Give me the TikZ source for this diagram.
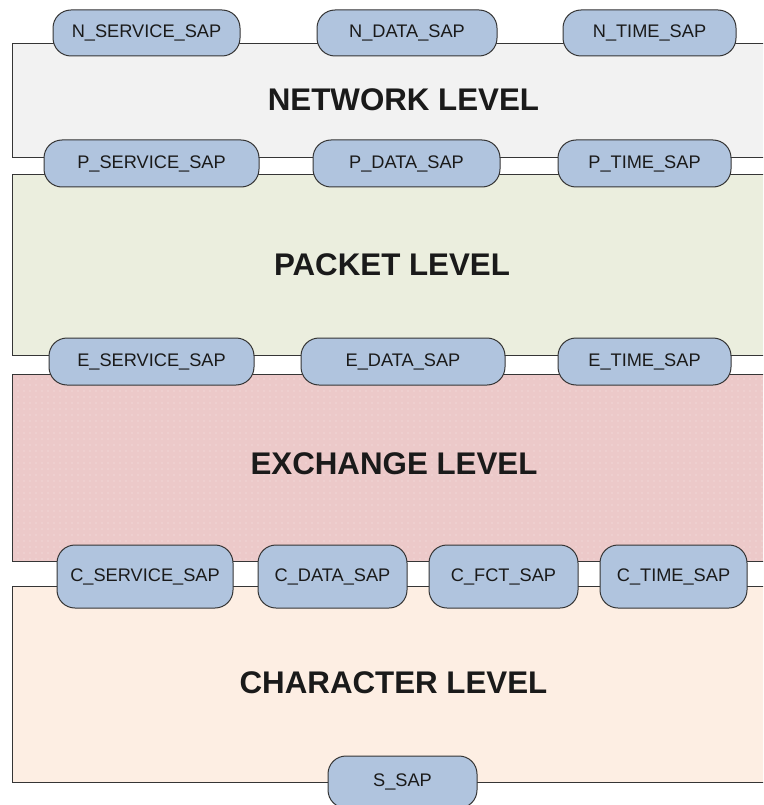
\documentclass[tikz,border=0pt]{standalone}
\usepackage{fontspec}
\setmainfont{Liberation Sans}
\usetikzlibrary{patterns.meta}
\definecolor{sapfill}{HTML}{B0C4DE}
\definecolor{edge}{HTML}{353535}
\definecolor{netfill}{HTML}{F2F2F2}
\definecolor{pktfill}{HTML}{EBEEDE}
\definecolor{excfill}{HTML}{ECC9C9}
\definecolor{chrfill}{HTML}{FDEEE3}
\definecolor{txt}{HTML}{1A1A1A}
\tikzset{
  sapbox/.style={draw=edge, fill=sapfill, line width=1pt, rounded corners=18pt,
    inner sep=0pt, font=\fontsize{18.2}{20}\selectfont, text=txt, anchor=center},
  levelbox/.style={draw=edge, line width=1pt},
  levellabel/.style={font=\fontsize{31.3}{34}\selectfont\bfseries, text=txt, anchor=center}
}
\newcommand{\mysap}[6]{%
  \node[sapbox, minimum width={(#4-#2)*1pt}, minimum height={(#5-#3)*1pt}]
    (#1) at ({(#2+#4)/2},{(#3+#5)/2}) {#6};}
\begin{document}
\begin{tikzpicture}[x=1pt,y=-1pt]
\useasboundingbox (0,0) rectangle (763,805);
\clip (0,0) rectangle (763,805);
% level rectangles
\draw[levelbox, fill=netfill] (12,44) rectangle (800,157.5);
\draw[levelbox, fill=pktfill] (12,174.5) rectangle (800,355);
\draw[levelbox, fill=excfill] (12,374.5) rectangle (800,561.5);
\fill[pattern={Dots[distance=6pt, radius=0.6pt]}, pattern color=white!50!excfill] (12.5,375) rectangle (800,561);
\draw[levelbox, fill=chrfill] (12,586.5) rectangle (800,782);
% level labels
\node[levellabel] (netlbl) at (403.5,100) {NETWORK LEVEL};
\node[levellabel] (pktlbl) at (392,265) {PACKET LEVEL};
\node[levellabel] (exclbl) at (394,464) {EXCHANGE LEVEL};
\node[levellabel] (chrlbl) at (393.5,683) {CHARACTER LEVEL};
% SAPs
\mysap{nserv}{53}{10}{240}{56}{N\_SERVICE\_SAP}
\mysap{ndata}{317}{10}{497}{56}{N\_DATA\_SAP}
\mysap{ntime}{563}{10}{736}{56}{N\_TIME\_SAP}
\mysap{pserv}{44}{140}{259}{187}{P\_SERVICE\_SAP}
\mysap{pdata}{313}{140}{500}{187}{P\_DATA\_SAP}
\mysap{ptime}{558}{140}{731}{187}{P\_TIME\_SAP}
\mysap{eserv}{49}{338}{254}{385}{E\_SERVICE\_SAP}
\mysap{edata}{301}{338}{505}{385}{E\_DATA\_SAP}
\mysap{etime}{558}{338}{731}{385}{E\_TIME\_SAP}
\mysap{cserv}{57}{545}{233}{608}{C\_SERVICE\_SAP}
\mysap{cdata}{258}{545}{407}{608}{C\_DATA\_SAP}
\mysap{cfct}{429}{545}{578}{608}{C\_FCT\_SAP}
\mysap{ctime}{600}{545}{747}{608}{C\_TIME\_SAP}
\mysap{ssap}{328}{756}{477}{808}{S\_SAP}
\end{tikzpicture}
\end{document}
